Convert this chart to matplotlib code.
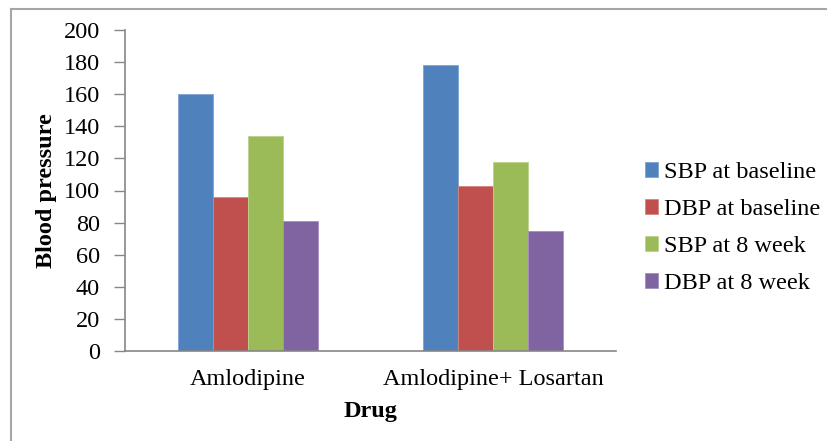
import numpy as np
import matplotlib.pyplot as plt
from matplotlib.lines import Line2D

plt.rcParams['font.family'] = ['Liberation Serif', 'DejaVu Serif']

drugs = ["Amlodipine", "Amlodipine+ Losartan"]
series = ["SBP at baseline", "DBP at baseline", "SBP at 8 week", "DBP at 8 week"]
sbp_base = [160, 178]
dbp_base = [96, 103]
sbp_8wk = [134, 118]
dbp_8wk = [81, 75]
values = [sbp_base, dbp_base, sbp_8wk, dbp_8wk]
colors = ["#4F81BD", "#C0504D", "#9BBB59", "#8064A2"]
edges = ["#7FA3D3", "#D48683", "#BBD38C", "#A48FC0"]

fs = 17.5

fig = plt.figure(figsize=(8.28, 4.41), dpi=100)
ax = fig.add_axes([125 / 828, 1 - 351 / 441, 491 / 828, 321 / 441])

x = np.arange(len(drugs))
w = 0.143
for i, (vals, c, ec) in enumerate(zip(values, colors, edges)):
    ax.bar(x + (i - 1.5) * w, vals, w, color=c, edgecolor=ec,
           linewidth=0.6, label=series[i], zorder=2)

ax.set_xlim(-0.5, 1.5)
ax.set_ylim(0, 200)
ax.set_yticks(range(0, 201, 20))
ax.set_xticks(x)
ax.set_xticklabels(drugs, fontsize=fs)
ax.tick_params(axis='y', labelsize=fs, length=8, color='#868686', width=1, pad=10)
ax.tick_params(axis='x', length=0, pad=13)

for s in ('top', 'right'):
    ax.spines[s].set_visible(False)
for s in ('left', 'bottom'):
    ax.spines[s].set_color('#868686')
    ax.spines[s].set_linewidth(1.2)

# axis titles
fig.text(47 / 828, 1 - 191 / 441, "Blood pressure", rotation=90, ha='center',
         va='center', fontsize=fs, fontweight='bold')
fig.text(370 / 828, 1 - 412 / 441, "Drug", ha='center', va='center',
         fontsize=fs, fontweight='bold')

ax.legend(loc='center left', bbox_to_anchor=(1.059, 0.383), frameon=False,
          fontsize=fs, handlelength=0.53, handleheight=0.53,
          handletextpad=0.25, labelspacing=0.66, borderaxespad=0, borderpad=0)

# outer frame of the chart area
fig.add_artist(Line2D([11 / 828, 11 / 828], [0, 1 - 9 / 441], color='#A6A6A6', lw=1.5))
fig.add_artist(Line2D([11 / 828, 1], [1 - 9 / 441, 1 - 9 / 441], color='#A6A6A6', lw=1.5))

fig.savefig("out.png", dpi=100)
